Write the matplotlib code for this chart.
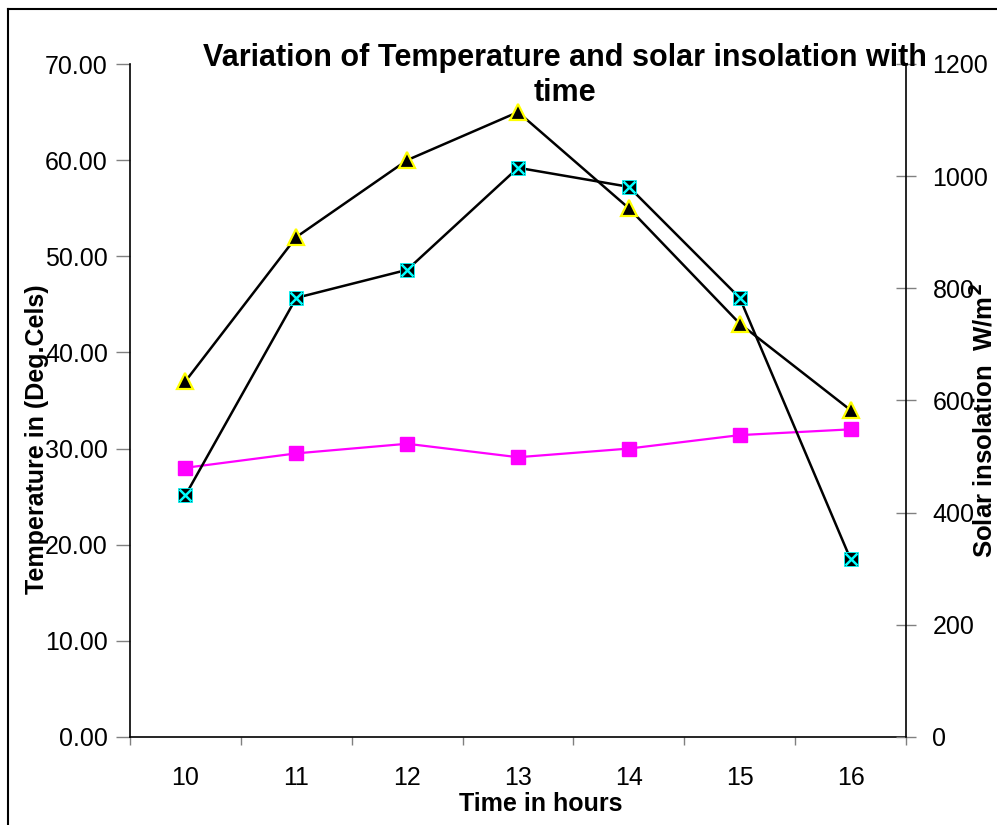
import matplotlib
matplotlib.use("Agg")
import matplotlib.pyplot as plt
from matplotlib.lines import Line2D
from matplotlib.ticker import FixedLocator, FuncFormatter

plt.rcParams['font.family'] = ['Liberation Sans', 'DejaVu Sans']

hours = [10, 11, 12, 13, 14, 15, 16]
temp_collector = [37, 52, 60, 65, 55, 43, 34]           # yellow triangles (left axis)
temp_ambient = [28.0, 29.5, 30.5, 29.1, 30.0, 31.4, 32.0]  # magenta squares (left axis)
solar = [431, 783, 833, 1015, 981, 783, 317]             # cyan crossed squares (right axis)

left_ticks = [0, 10, 20, 30, 40, 50, 60, 70]
right_ticks = [0, 200, 400, 600, 800, 1000, 1200]

W, H = 997, 825
fig = plt.figure(figsize=(W / 100, H / 100), dpi=100)
ax = fig.add_axes([130 / W, 1 - 737 / H, (906 - 130) / W, (737 - 64) / H])
ax2 = ax.twinx()

ax.set_xlim(9.5, 16.5)
ax.set_ylim(0, 70)
ax2.set_ylim(0, 1200)

# series
ax.plot(hours, temp_ambient, color='#FF00FF', lw=1.6, marker='s', ms=10.5,
        mfc='#FF00FF', mec='#FF00FF', zorder=3)
ax.plot(hours, temp_collector, color='black', lw=1.8, marker='^', ms=11,
        mfc='black', mec='#FFFF00', mew=1.6, zorder=4)
ax2.plot(hours, solar, color='black', lw=1.8, marker='s', ms=9.5,
         mfc='black', mec='#00FFFF', mew=0.6, zorder=4)
ax2.plot(hours, solar, ls='none', marker='x', ms=9, mec='#00FFFF', mew=1.8, zorder=5)

# spines
for a in (ax, ax2):
    a.spines['top'].set_visible(False)
    a.patch.set_visible(False)
ax.spines['right'].set_visible(False)
ax2.spines['left'].set_visible(False)
ax2.spines['bottom'].set_visible(False)
for s in ('left', 'bottom'):
    ax.spines[s].set_color('black')
    ax.spines[s].set_linewidth(1.2)
ax2.spines['right'].set_color('black')
ax2.spines['right'].set_linewidth(1.2)

# ticks
ax.set_yticks(left_ticks)
ax.yaxis.set_major_formatter(FuncFormatter(lambda v, p: f"{v:.2f}"))
ax.tick_params(axis='y', direction='out', length=10, width=1, color='#808080',
               labelsize=18, pad=6)
ax.set_xticks(hours)
ax.set_xticklabels([str(h) for h in hours])
ax.xaxis.set_minor_locator(FixedLocator([h - 0.5 for h in hours] + [hours[-1] + 0.5]))
ax.tick_params(axis='x', which='major', length=0, labelsize=18, pad=21)
ax.tick_params(axis='x', which='minor', direction='out', length=6, width=1, color='#808080')

ax2.set_yticks(right_ticks)
ax2.set_yticklabels([str(t) for t in right_ticks])
ax2.tick_params(axis='y', direction='inout', length=14, width=1, color='#808080',
                labelsize=18, pad=12)

# labels
fig.text(541 / W, 1 - 804 / H, 'Time in hours', ha='center', va='center',
         fontsize=18, fontweight='bold')
fig.text(37 / W, 1 - 439 / H, 'Temperature in (Deg.Cels)', ha='center', va='center',
         rotation=90, fontsize=18, fontweight='bold')
fig.text(983 / W, 1 - 421 / H, r'Solar insolation  W/m$^{\mathbf{2}}$', ha='center', va='center',
         rotation=90, fontsize=18.5, fontweight='bold')
fig.text(565 / W, 1 - 43 / H, 'Variation of Temperature and solar insolation with\ntime',
         ha='center', va='top', multialignment='center', fontsize=22, fontweight='bold',
         linespacing=1.2)

# outer frame (top and left only visible)
fig.add_artist(Line2D([8 / W, 8 / W], [0, 1 - 9 / H], transform=fig.transFigure,
                      color='black', lw=1.5))
fig.add_artist(Line2D([8 / W, 1], [1 - 9 / H, 1 - 9 / H], transform=fig.transFigure,
                      color='black', lw=1.5))

fig.savefig('out.png', dpi=100)
